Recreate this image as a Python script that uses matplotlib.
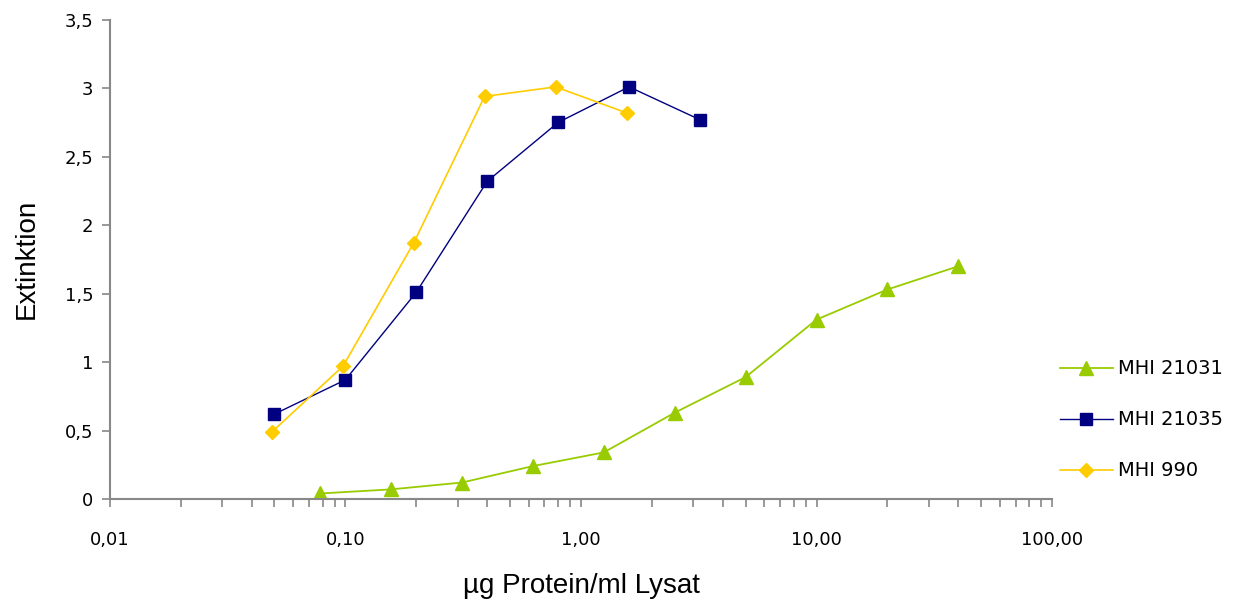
import matplotlib
matplotlib.use("Agg")
import matplotlib.pyplot as plt
from matplotlib.ticker import FixedLocator, FixedFormatter, LogLocator, NullFormatter

# MHI 21031
x_21031 = [0.078, 0.156, 0.3125, 0.625, 1.25, 2.5, 5, 10, 20, 40]
y_21031 = [0.04, 0.07, 0.12, 0.24, 0.34, 0.63, 0.89, 1.31, 1.53, 1.70]

# MHI 21035
x_21035 = [0.05, 0.1, 0.2, 0.4, 0.8, 1.6, 3.2]
y_21035 = [0.62, 0.87, 1.51, 2.32, 2.75, 3.01, 2.77]

# MHI 990
x_990 = [0.0488, 0.0977, 0.195, 0.39, 0.78, 1.5625]
y_990 = [0.49, 0.97, 1.87, 2.94, 3.01, 2.82]

x_ticks = [0.01, 0.1, 1, 10, 100]
x_ticklabels = ["0,01", "0,10", "1,00", "10,00", "100,00"]
y_ticks = [0, 0.5, 1, 1.5, 2, 2.5, 3, 3.5]
y_ticklabels = ["0", "0,5", "1", "1,5", "2", "2,5", "3", "3,5"]

fig = plt.figure(figsize=(12.48, 5.99), dpi=100)
ax = fig.add_axes([0.088, 0.167, 0.755, 0.80])

ax.plot(x_21031, y_21031, color="#99CC00", marker="^", markersize=10, lw=1.3, label="MHI 21031")
ax.plot(x_21035, y_21035, color="#000080", marker="s", markersize=9, lw=1.0, label="MHI 21035")
ax.plot(x_990, y_990, color="#FFCC00", marker="D", markersize=7, lw=1.2, label="MHI 990")

ax.set_xscale("log")
ax.set_xlim(0.01, 100)
ax.set_ylim(0, 3.5)

ax.xaxis.set_major_locator(FixedLocator(x_ticks))
ax.xaxis.set_major_formatter(FixedFormatter(x_ticklabels))
ax.xaxis.set_minor_locator(LogLocator(base=10, subs=range(2, 10)))
ax.xaxis.set_minor_formatter(NullFormatter())
ax.set_yticks(y_ticks)
ax.set_yticklabels(y_ticklabels)

for s in ["top", "right"]:
    ax.spines[s].set_visible(False)
for s in ["left", "bottom"]:
    ax.spines[s].set_color("#888888")
    ax.spines[s].set_linewidth(1.5)

ax.tick_params(axis="x", which="both", direction="out", length=6, color="#888888", width=1.2,
               labelsize=13, pad=17)
ax.tick_params(axis="y", direction="out", length=6, color="#888888", width=1.2, labelsize=13, pad=6)

ax.set_ylabel("Extinktion", fontsize=20, family="Liberation Sans", labelpad=18)
ax.set_xlabel("µg Protein/ml Lysat", fontsize=20, family="Liberation Sans", labelpad=17)

ax.legend(loc="center left", bbox_to_anchor=(0.99, 0.165), frameon=False, fontsize=14,
          labelspacing=1.65, handlelength=2.7, handletextpad=0.3)

fig.savefig("out.png", dpi=100)
